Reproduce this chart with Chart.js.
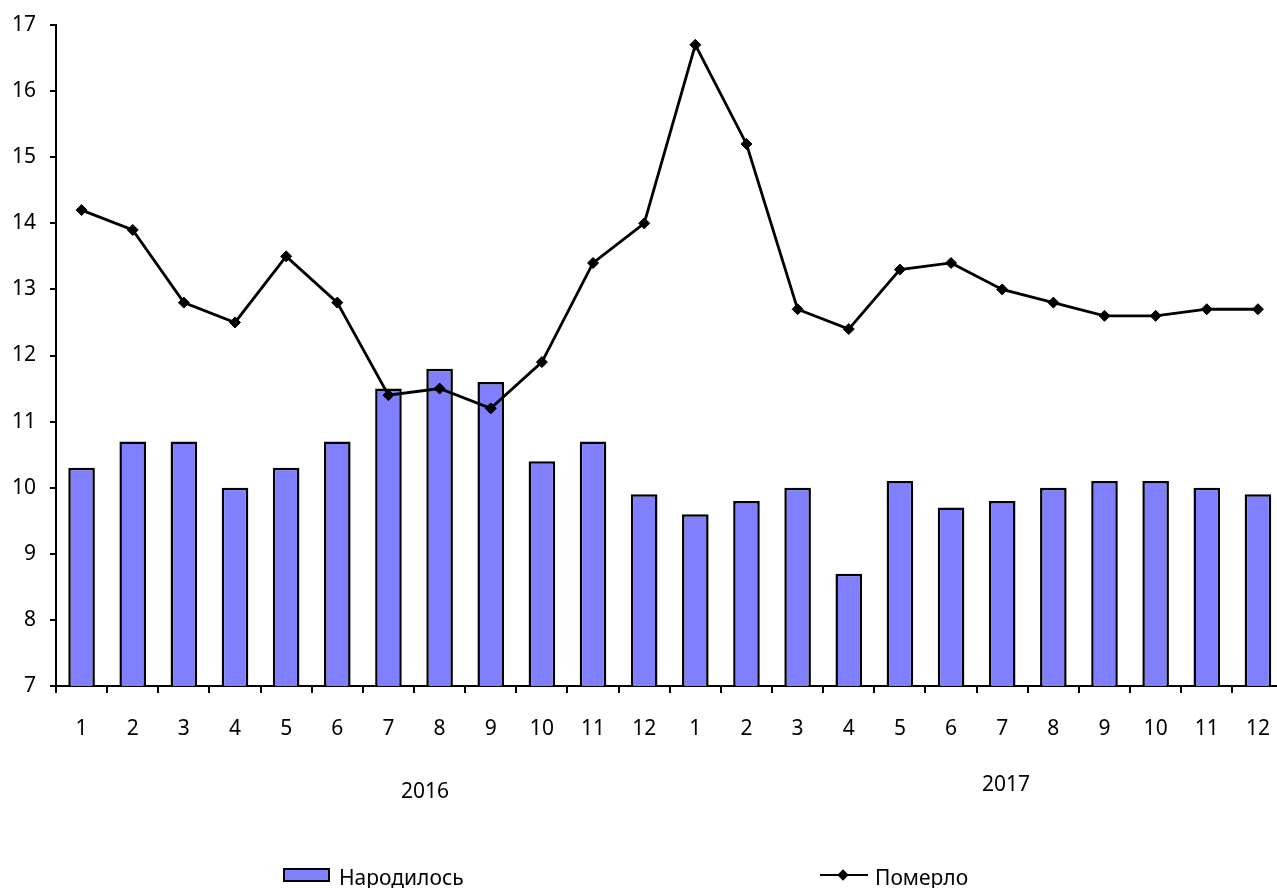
<!DOCTYPE html>
<html>
<head>
<meta charset="utf-8">
<script src="https://cdn.jsdelivr.net/npm/chart.js@4"></script>
<style>
  html, body { margin: 0; padding: 0; background: #fff; overflow: hidden; width: 1277px; height: 888px; }
  #wrap { position: relative; width: 1290px; height: 888px; }
  canvas { position: absolute; left: 0; top: 0; }
  .txt { position: absolute; font-family: "Noto Sans", sans-serif; color: #000; white-space: nowrap; line-height: 1; }
  .year { font-size: 21px; transform: translate(-50%, -50%); }
  .leg { font-size: 21px; transform: translateY(-50%); }
  .box { position: absolute; background: #8080FF; border: 2px solid #000; box-sizing: border-box; }
  .lline { position: absolute; height: 2px; background: #000; }
  .dia { position: absolute; width: 8px; height: 8px; background: #000; transform: translate(-50%, -50%) rotate(45deg); }
</style>
</head>
<body>
<div id="wrap">
  <canvas id="c" width="1290" height="888" style="width:1290px;height:888px"></canvas>
  <div class="txt year" style="left:425px; top:790px;">2016</div>
  <div class="txt year" style="left:1006px; top:783px;">2017</div>
  <div class="box" style="left:283px; top:868px; width:47px; height:14px;"></div>
  <div class="txt leg" style="left:339px; top:877px;">Народилось</div>
  <div class="lline" style="left:820px; top:874px; width:48px;"></div>
  <div class="dia" style="left:843px; top:875px;"></div>
  <div class="txt leg" style="left:875px; top:877px;">Померло</div>
</div>
<script>
const months = ["1","2","3","4","5","6","7","8","9","10","11","12","1","2","3","4","5","6","7","8","9","10","11","12"];
const born = [10.3, 10.7, 10.7, 10.0, 10.3, 10.7, 11.5, 11.8, 11.6, 10.4, 10.7, 9.9, 9.6, 9.8, 10.0, 8.7, 10.1, 9.7, 9.8, 10.0, 10.1, 10.1, 10.0, 9.9];
const died = [14.2, 13.9, 12.8, 12.5, 13.5, 12.8, 11.4, 11.5, 11.2, 11.9, 13.4, 14.0, 16.7, 15.2, 12.7, 12.4, 13.3, 13.4, 13.0, 12.8, 12.6, 12.6, 12.7, 12.7];
const yMin = 7, yMax = 17;

const font = { family: "Noto Sans", size: 21 };

new Chart(document.getElementById('c'), {
  data: {
    labels: months,
    datasets: [
      {
        type: 'line',
        label: 'Померло',
        data: died,
        borderColor: '#000',
        borderWidth: 2.8,
        backgroundColor: '#000',
        pointStyle: 'rectRot',
        pointRadius: 5.5,
        pointBackgroundColor: '#000',
        pointBorderColor: '#000',
        pointBorderWidth: 1,
        tension: 0,
        order: 0
      },
      {
        type: 'bar',
        label: 'Народилось',
        data: born,
        backgroundColor: '#8080FF',
        borderColor: '#000',
        borderWidth: 2.5,
        borderSkipped: false,
        categoryPercentage: 1.0,
        barPercentage: 0.52,
        order: 1
      }
    ]
  },
  options: {
    responsive: false,
    animation: false,
    devicePixelRatio: 1,
    layout: { padding: { left: 0, right: 4, top: 25, bottom: 0 } },
    plugins: { legend: { display: false }, tooltip: { enabled: false } },
    scales: {
      x: {
        type: 'category',
        offset: true,
        grid: { offset: true, drawOnChartArea: false, drawTicks: true, tickLength: 7, color: '#000', lineWidth: 2 },
        border: { display: true, color: '#000', width: 2 },
        ticks: { color: '#000', font: font, padding: 23, maxRotation: 0, autoSkip: false },
        afterFit: (s) => { s.height = 202; s.paddingLeft = 0; s.paddingRight = 0; }
      },
      y: {
        min: yMin, max: yMax,
        grid: { drawOnChartArea: false, drawTicks: true, tickLength: 6, color: '#000', lineWidth: 2 },
        border: { display: true, color: '#000', width: 2 },
        ticks: { stepSize: 1, color: '#000', font: font, padding: 14 },
        afterFit: (s) => { s.width = 56; s.paddingTop = 0; s.paddingBottom = 0; }
      }
    }
  }
});
</script>
</body>
</html>
